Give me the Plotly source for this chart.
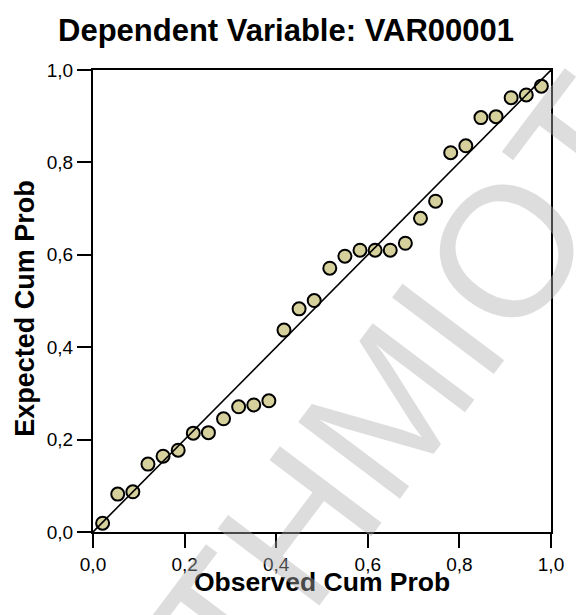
import plotly.graph_objects as go

# Data
observed_cum_prob = [0.021, 0.054, 0.087, 0.120, 0.153, 0.186, 0.219, 0.252, 0.285, 0.318,
                     0.351, 0.384, 0.417, 0.450, 0.483, 0.517, 0.550, 0.583, 0.616, 0.649,
                     0.682, 0.715, 0.748, 0.781, 0.814, 0.847, 0.880, 0.913, 0.946, 0.979]
expected_cum_prob = [0.019, 0.082, 0.087, 0.147, 0.164, 0.177, 0.214, 0.215, 0.245, 0.271,
                     0.275, 0.284, 0.437, 0.483, 0.501, 0.571, 0.597, 0.610, 0.610, 0.610,
                     0.625, 0.679, 0.716, 0.821, 0.836, 0.897, 0.899, 0.940, 0.946, 0.965]
diag_x = [0, 1]
diag_y = [0, 1]
tick_vals = [0, 0.2, 0.4, 0.6, 0.8, 1.0]
tick_text = ["0,0", "0,2", "0,4", "0,6", "0,8", "1,0"]
watermark = "THMIOT"

FONT = "Liberation Sans, Arial, Helvetica, sans-serif"

fig = go.Figure()
fig.add_trace(go.Scatter(
    x=observed_cum_prob, y=expected_cum_prob, mode="markers",
    marker=dict(size=13, color="#d6d09c", line=dict(color="black", width=2)),
    cliponaxis=False, showlegend=False, hoverinfo="skip"))
fig.add_trace(go.Scatter(
    x=diag_x, y=diag_y, mode="lines",
    line=dict(color="black", width=1.6), showlegend=False, hoverinfo="skip"))

axis_common = dict(
    range=[0, 1], tickvals=tick_vals, ticktext=tick_text,
    ticks="outside", ticklen=14, tickwidth=2, tickcolor="black",
    showline=True, linewidth=2, linecolor="black", mirror=True,
    showgrid=False, zeroline=False,
    tickfont=dict(family=FONT, size=19, color="black"),
)

fig.update_layout(
    width=576, height=615,
    margin=dict(l=93, r=20, t=70, b=83),
    paper_bgcolor="white", plot_bgcolor="white",
    xaxis=axis_common, yaxis=axis_common,
    title=dict(text="<b>Dependent Variable: VAR00001</b>",
               x=286 / 576, xref="container", xanchor="center",
               y=1 - 30 / 615, yref="container", yanchor="middle",
               font=dict(family=FONT, size=31, color="black")),
    annotations=[
        dict(text="<b>Observed Cum Prob</b>", xref="paper", yref="paper",
             x=0.5, y=-(582 - 532) / 462, xanchor="center", yanchor="middle",
             showarrow=False, font=dict(family=FONT, size=26.5, color="black")),
        dict(text="<b>Expected Cum Prob</b>", xref="paper", yref="paper",
             x=-(93 - 24) / 463, y=(532 - 308) / 462, xanchor="center", yanchor="middle",
             textangle=-90, showarrow=False,
             font=dict(family=FONT, size=27, color="black")),
        dict(text=watermark, xref="paper", yref="paper",
             x=(408 - 93) / 463, y=(532 - 386) / 462, xanchor="center", yanchor="middle",
             textangle=-53, showarrow=False,
             font=dict(family=FONT, size=185, color="rgba(175,175,175,0.42)")),
    ],
)

fig.write_html("out.html", config={"displayModeBar": False},
               post_script="document.body.style.margin='0';document.body.style.padding='0';")
